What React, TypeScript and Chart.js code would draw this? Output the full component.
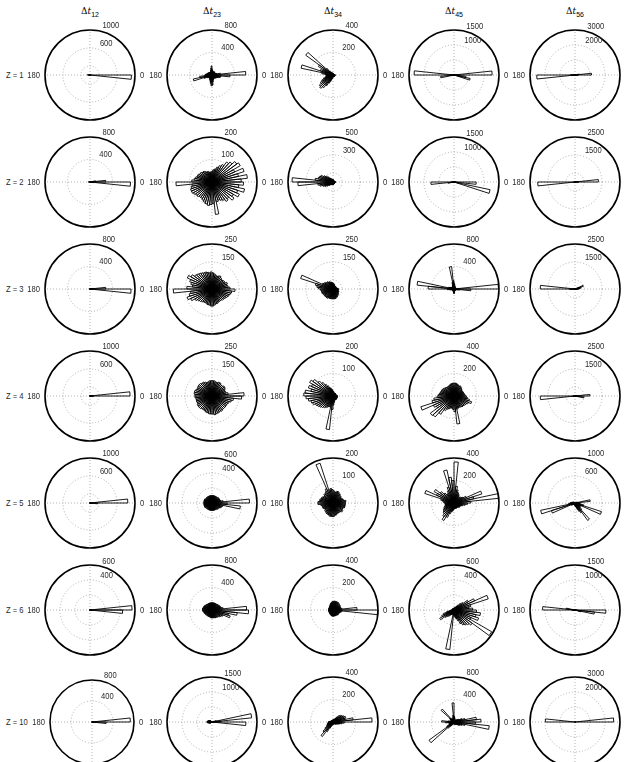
import React, { useEffect, useRef } from "react";
import { Chart, registerables } from "chart.js";
Chart.register(...registerables);

// ---- layout constants (page coordinates) ----
const COL_X = [90, 212, 333, 454, 575];
const ROW_Y = [75, 182, 289, 396, 503, 610, 722];
const R_DEFAULT = 45;
const PW = 140;
const PH = 120;

// ---- labels ----
const columnSubscripts = ["12", "23", "34", "45", "56"];
const rowLabels = ["Z = 1", "Z = 2", "Z = 3", "Z = 4", "Z = 5", "Z = 6", "Z = 10"];

// ---- radial axis: outer value and ring step per panel ----
const axisMax = [
  [1000, 800, 400, 1500, 3000],
  [800, 200, 500, 1500, 2500],
  [800, 250, 250, 800, 2500],
  [1000, 250, 200, 400, 2500],
  [1000, 600, 200, 400, 1000],
  [600, 800, 400, 600, 1500],
  [800, 1500, 400, 800, 3000],
];
const axisStep = [
  [400, 400, 200, 500, 1000],
  [400, 100, 200, 500, 1000],
  [400, 100, 100, 400, 1000],
  [400, 100, 100, 200, 1000],
  [400, 200, 100, 200, 400],
  [200, 400, 200, 200, 500],
  [400, 500, 200, 400, 1000],
];

// ---- rose histogram counts: 60 bins of 6 deg, starting at 0 deg, counter-clockwise ----
const z1_dt12 = [
  30, 0, 0, 0, 0, 0, 0, 0, 0, 0, 0, 0, 0, 0, 0,
  0, 0, 0, 0, 0, 0, 0, 0, 0, 0, 0, 0, 0, 20, 60,
  40, 10, 0, 0, 0, 0, 0, 0, 0, 0, 0, 0, 0, 0, 0,
  0, 0, 0, 0, 0, 0, 0, 0, 0, 0, 0, 0, 0, 10, 920,
];
const z1_dt23 = [
  600, 150, 90, 80, 70, 60, 60, 60, 70, 70, 60, 60, 70, 80, 100,
  160, 120, 90, 70, 60, 60, 60, 60, 70, 70, 80, 80, 90, 100, 120,
  130, 220, 340, 150, 100, 80, 70, 70, 70, 80, 90, 100, 120, 150, 190,
  180, 120, 90, 80, 70, 70, 70, 80, 80, 90, 100, 120, 150, 160, 320,
];
const z1_dt34 = [
  20, 15, 10, 10, 10, 10, 10, 10, 10, 10, 10, 10, 10, 10, 15,
  15, 15, 20, 20, 25, 30, 40, 80, 300, 150, 100, 120, 290, 100, 70,
  60, 60, 70, 90, 110, 130, 150, 160, 140, 110, 80, 60, 40, 30, 20,
  20, 15, 15, 15, 15, 15, 15, 15, 15, 15, 15, 15, 20, 20, 20,
];
const z1_dt45 = [
  1270, 40, 20, 10, 10, 10, 10, 10, 10, 10, 10, 10, 10, 10, 20,
  20, 10, 10, 10, 10, 10, 10, 10, 10, 10, 10, 10, 20, 60, 1330,
  150, 450, 80, 30, 20, 10, 10, 10, 10, 10, 10, 10, 10, 10, 20,
  20, 10, 10, 10, 10, 10, 10, 10, 10, 10, 10, 10, 550, 400, 150,
];
const z1_dt56 = [
  1100, 300, 40, 0, 0, 0, 0, 0, 0, 0, 0, 0, 0, 0, 0,
  0, 0, 0, 0, 0, 0, 0, 0, 0, 0, 0, 0, 0, 80, 300,
  2550, 200, 40, 0, 0, 0, 0, 0, 0, 0, 0, 0, 0, 0, 0,
  0, 0, 0, 0, 0, 0, 0, 0, 0, 0, 0, 0, 0, 60, 200,
];

const z2_dt12 = [
  280, 100, 20, 0, 0, 0, 0, 0, 0, 0, 0, 0, 0, 0, 0,
  0, 0, 0, 0, 0, 0, 0, 0, 0, 0, 0, 0, 0, 0, 30,
  20, 0, 0, 0, 0, 0, 0, 0, 0, 0, 0, 0, 0, 0, 0,
  0, 0, 0, 0, 0, 0, 0, 0, 0, 0, 0, 0, 0, 60, 720,
];
const z2_dt23 = [
  130, 158, 120, 150, 110, 145, 136, 120, 110, 90, 80, 70, 60, 55, 50,
  45, 45, 45, 50, 50, 55, 60, 60, 65, 65, 70, 70, 75, 80, 90,
  160, 90, 95, 100, 100, 95, 90, 90, 85, 85, 90, 95, 100, 105, 100,
  95, 145, 90, 85, 90, 95, 107, 100, 121, 110, 133, 120, 148, 120, 140,
];
const z2_dt34 = [
  30, 20, 15, 15, 15, 15, 15, 15, 15, 15, 20, 20, 20, 25, 25,
  30, 30, 30, 35, 40, 50, 60, 80, 100, 120, 150, 160, 170, 200, 455,
  390, 170, 150, 120, 100, 80, 60, 50, 40, 35, 30, 30, 30, 30, 30,
  30, 25, 25, 25, 20, 20, 20, 20, 20, 20, 20, 20, 20, 25, 30,
];
const z2_dt45 = [
  60, 20, 10, 10, 10, 10, 10, 10, 10, 10, 10, 10, 10, 10, 20,
  30, 10, 10, 10, 10, 10, 10, 10, 10, 10, 10, 10, 10, 20, 80,
  770, 200, 30, 10, 10, 10, 10, 10, 10, 10, 10, 10, 10, 10, 20,
  30, 10, 10, 10, 10, 10, 10, 10, 10, 10, 10, 30, 1230, 150, 740,
];
const z2_dt56 = [
  1300, 150, 20, 0, 0, 0, 0, 0, 0, 0, 0, 0, 0, 0, 0,
  0, 0, 0, 0, 0, 0, 0, 0, 0, 0, 0, 0, 0, 0, 60,
  2070, 100, 20, 0, 0, 0, 0, 0, 0, 0, 0, 0, 0, 0, 0,
  0, 0, 0, 0, 0, 0, 0, 0, 0, 0, 0, 0, 0, 40, 200,
];

const z3_dt12 = [
  280, 60, 10, 0, 0, 0, 0, 0, 0, 0, 0, 0, 0, 0, 0,
  0, 0, 0, 0, 0, 0, 0, 0, 0, 0, 0, 0, 0, 0, 20,
  10, 0, 0, 0, 0, 0, 0, 0, 0, 0, 0, 0, 0, 0, 0,
  0, 0, 0, 0, 0, 0, 0, 0, 0, 0, 0, 0, 0, 30, 730,
];
const z3_dt23 = [
  100, 90, 85, 90, 80, 80, 75, 75, 80, 85, 80, 75, 80, 85, 90,
  95, 90, 95, 100, 100, 105, 110, 115, 120, 135, 150, 130, 120, 110, 140,
  215, 120, 130, 145, 130, 110, 100, 95, 90, 85, 85, 85, 90, 90, 95,
  95, 90, 85, 85, 80, 80, 80, 85, 85, 90, 95, 100, 105, 110, 128,
];
const z3_dt34 = [
  30, 25, 20, 20, 20, 20, 20, 20, 20, 20, 20, 25, 25, 30, 30,
  35, 35, 40, 40, 45, 45, 50, 50, 55, 60, 65, 189, 100, 90, 80,
  70, 65, 65, 65, 60, 60, 60, 60, 60, 60, 55, 55, 55, 55, 55,
  55, 55, 55, 50, 50, 45, 45, 40, 40, 35, 35, 35, 30, 30, 30,
];
const z3_dt45 = [
  790, 60, 40, 30, 30, 30, 30, 30, 30, 40, 40, 50, 60, 80, 100,
  150, 400, 120, 80, 60, 50, 40, 40, 40, 50, 60, 80, 100, 660, 460,
  120, 80, 60, 40, 30, 30, 30, 30, 30, 30, 30, 40, 50, 60, 80,
  80, 60, 40, 30, 30, 30, 30, 30, 30, 30, 30, 40, 60, 100, 300,
];
const z3_dt56 = [
  250, 300, 350, 490, 80, 20, 0, 0, 0, 0, 0, 0, 0, 0, 0,
  0, 0, 0, 0, 0, 0, 0, 0, 0, 0, 0, 0, 0, 60, 1930,
  300, 100, 0, 0, 0, 0, 0, 0, 0, 0, 0, 0, 0, 0, 0,
  0, 0, 0, 0, 0, 0, 0, 0, 0, 0, 0, 0, 0, 40, 150,
];

const z4_dt12 = [
  890, 60, 0, 0, 0, 0, 0, 0, 0, 0, 0, 0, 0, 0, 0,
  0, 0, 0, 0, 0, 0, 0, 0, 0, 0, 0, 0, 0, 0, 20,
  10, 0, 0, 0, 0, 0, 0, 0, 0, 0, 0, 0, 0, 0, 0,
  0, 0, 0, 0, 0, 0, 0, 0, 0, 0, 0, 0, 0, 20, 80,
];
const z4_dt23 = [
  178, 90, 80, 75, 80, 85, 85, 80, 80, 85, 85, 80, 80, 85, 85,
  85, 85, 80, 80, 85, 90, 90, 95, 95, 94, 90, 95, 100, 100, 95,
  95, 90, 90, 90, 90, 95, 95, 95, 90, 90, 90, 95, 95, 100, 100,
  100, 105, 100, 100, 95, 99, 95, 95, 95, 95, 95, 100, 110, 120, 165,
];
const z4_dt34 = [
  20, 15, 15, 15, 15, 15, 15, 15, 15, 15, 15, 15, 15, 20, 20,
  25, 30, 35, 40, 50, 60, 75, 90, 110, 120, 105, 115, 100, 125, 130,
  120, 110, 100, 95, 85, 80, 75, 70, 65, 60, 55, 50, 50, 150, 60,
  40, 30, 25, 20, 20, 20, 20, 20, 20, 20, 20, 20, 20, 20, 20,
];
const z4_dt45 = [
  100, 95, 90, 90, 85, 85, 90, 95, 100, 105, 100, 105, 110, 115, 115,
  115, 113, 110, 105, 100, 100, 100, 105, 110, 115, 120, 120, 125, 130, 140,
  150, 180, 200, 310, 200, 180, 260, 250, 200, 150, 130, 120, 110, 110, 120,
  140, 250, 120, 110, 110, 115, 120, 120, 125, 130, 140, 165, 140, 120, 110,
];
const z4_dt56 = [
  830, 100, 30, 0, 0, 0, 0, 0, 0, 0, 0, 0, 0, 0, 0,
  0, 0, 0, 0, 0, 0, 0, 0, 0, 0, 0, 0, 0, 0, 100,
  1930, 150, 30, 0, 0, 0, 0, 0, 0, 0, 0, 0, 0, 0, 0,
  0, 0, 0, 0, 0, 0, 0, 0, 0, 0, 0, 0, 0, 500, 200,
];

const z5_dt12 = [
  840, 30, 0, 0, 0, 0, 0, 0, 0, 0, 0, 0, 0, 0, 0,
  0, 0, 0, 0, 0, 0, 0, 0, 0, 0, 0, 0, 0, 0, 10,
  20, 0, 0, 0, 0, 0, 0, 0, 0, 0, 0, 0, 0, 0, 0,
  0, 0, 0, 0, 0, 0, 0, 0, 0, 0, 0, 0, 0, 60, 170,
];
const z5_dt23 = [
  500, 150, 120, 110, 110, 110, 110, 100, 100, 100, 100, 100, 100, 100, 100,
  100, 100, 100, 100, 100, 100, 100, 100, 100, 100, 110, 110, 110, 110, 110,
  110, 110, 110, 110, 110, 110, 100, 100, 100, 100, 100, 100, 100, 100, 100,
  100, 100, 100, 100, 100, 100, 110, 110, 110, 120, 130, 140, 150, 380, 200,
];
const z5_dt34 = [
  55, 58, 50, 45, 45, 40, 45, 45, 50, 50, 55, 55, 50, 50, 55,
  60, 65, 60, 186, 70, 60, 55, 55, 50, 50, 55, 55, 60, 60, 67,
  67, 55, 50, 50, 50, 45, 45, 50, 50, 55, 55, 55, 60, 60, 60,
  60, 55, 55, 50, 50, 50, 50, 55, 55, 50, 50, 55, 55, 55, 55,
];
const z5_dt45 = [
  150, 400, 180, 260, 120, 90, 80, 70, 70, 80, 90, 100, 120, 150, 365,
  200, 230, 300, 150, 120, 100, 100, 120, 150, 203, 170, 273, 120, 100, 90,
  80, 80, 80, 90, 100, 110, 120, 130, 150, 180, 140, 100, 80, 70, 60,
  50, 50, 50, 50, 50, 50, 50, 50, 60, 60, 60, 70, 80, 100, 120,
];
const z5_dt56 = [
  80, 340, 60, 40, 30, 30, 20, 20, 20, 20, 20, 20, 20, 20, 20,
  20, 20, 20, 20, 20, 20, 20, 20, 20, 30, 40, 50, 60, 80, 100,
  120, 150, 780, 550, 100, 80, 60, 50, 40, 40, 40, 40, 40, 50, 60,
  60, 80, 100, 150, 200, 250, 480, 200, 150, 120, 150, 620, 200, 120, 100,
];

const z6_dt12 = [
  560, 20, 0, 0, 0, 0, 0, 0, 0, 0, 0, 0, 0, 0, 0,
  0, 0, 0, 0, 0, 0, 0, 0, 0, 0, 0, 0, 0, 0, 10,
  10, 0, 0, 0, 0, 0, 0, 0, 0, 0, 0, 0, 0, 0, 0,
  0, 0, 0, 0, 0, 0, 0, 0, 0, 0, 0, 0, 0, 20, 435,
];
const z6_dt23 = [
  615, 200, 170, 160, 150, 150, 140, 140, 130, 130, 130, 130, 130, 130, 130,
  130, 130, 130, 130, 130, 130, 130, 140, 140, 150, 150, 160, 160, 170, 170,
  170, 160, 150, 150, 140, 140, 130, 130, 130, 130, 130, 130, 130, 140, 140,
  140, 140, 140, 150, 150, 150, 160, 170, 180, 200, 220, 340, 300, 450, 650,
];
const z6_dt34 = [
  213, 80, 70, 70, 70, 75, 75, 75, 80, 80, 80, 80, 80, 80, 75,
  75, 70, 65, 60, 55, 50, 45, 45, 40, 40, 40, 40, 40, 40, 40,
  40, 40, 40, 40, 40, 40, 40, 40, 45, 45, 45, 50, 50, 55, 55,
  55, 55, 55, 55, 55, 55, 60, 60, 60, 60, 60, 65, 70, 80, 400,
];
const z6_dt45 = [
  250, 200, 230, 480, 300, 220, 150, 120, 80, 60, 40, 30, 30, 30, 30,
  20, 20, 20, 20, 20, 20, 20, 20, 20, 20, 20, 20, 20, 20, 30,
  40, 60, 100, 150, 180, 220, 150, 120, 100, 80, 70, 60, 60, 530, 60,
  80, 100, 120, 150, 200, 230, 250, 270, 300, 580, 250, 345, 300, 355, 300,
];
const z6_dt56 = [
  50, 20, 0, 0, 0, 0, 0, 0, 0, 0, 0, 0, 0, 0, 0,
  0, 0, 0, 0, 0, 0, 0, 0, 0, 0, 0, 0, 0, 300, 1080,
  100, 30, 0, 0, 0, 0, 0, 0, 0, 0, 0, 0, 0, 0, 0,
  0, 0, 0, 0, 0, 0, 0, 0, 0, 0, 0, 0, 200, 650, 1030,
];

const z10_dt12 = [
  730, 30, 0, 0, 0, 0, 0, 0, 0, 0, 0, 0, 0, 0, 0,
  0, 0, 0, 0, 0, 0, 0, 0, 0, 0, 0, 0, 0, 0, 10,
  10, 0, 0, 0, 0, 0, 0, 0, 0, 0, 0, 0, 0, 0, 0,
  0, 0, 0, 0, 0, 0, 0, 0, 0, 0, 0, 0, 0, 60, 270,
];
const z10_dt23 = [
  300, 1330, 150, 60, 40, 30, 20, 20, 20, 20, 20, 20, 20, 20, 20,
  20, 20, 20, 20, 20, 20, 30, 40, 60, 80, 100, 120, 140, 160, 170,
  170, 150, 120, 100, 80, 60, 40, 30, 20, 20, 20, 20, 20, 20, 20,
  20, 20, 20, 20, 20, 20, 20, 20, 20, 20, 30, 40, 60, 100, 1130,
];
const z10_dt34 = [
  347, 180, 110, 120, 110, 100, 90, 80, 60, 40, 30, 25, 20, 20, 20,
  20, 15, 15, 15, 15, 15, 15, 15, 15, 15, 15, 20, 25, 30, 40,
  40, 45, 50, 55, 60, 70, 90, 120, 160, 100, 60, 40, 30, 25, 20,
  20, 20, 20, 20, 20, 20, 25, 25, 30, 30, 40, 50, 60, 80, 100,
];
const z10_dt45 = [
  480, 400, 200, 150, 100, 80, 60, 50, 40, 40, 40, 50, 60, 80, 100,
  340, 120, 80, 60, 60, 60, 80, 310, 100, 80, 60, 60, 60, 100, 220,
  150, 100, 80, 80, 100, 150, 550, 150, 100, 60, 40, 30, 30, 30, 40,
  40, 40, 40, 40, 50, 50, 60, 70, 80, 100, 120, 150, 200, 630, 380,
];
const z10_dt56 = [
  2580, 40, 0, 0, 0, 0, 0, 0, 0, 0, 0, 0, 0, 0, 0,
  0, 0, 0, 0, 0, 0, 0, 0, 0, 0, 0, 0, 0, 0, 1980,
  40, 0, 0, 0, 0, 0, 0, 0, 0, 0, 0, 0, 0, 0, 0,
  0, 0, 0, 0, 0, 0, 0, 0, 0, 0, 0, 0, 0, 0, 40,
];

const panelCounts = [
  [z1_dt12, z1_dt23, z1_dt34, z1_dt45, z1_dt56],
  [z2_dt12, z2_dt23, z2_dt34, z2_dt45, z2_dt56],
  [z3_dt12, z3_dt23, z3_dt34, z3_dt45, z3_dt56],
  [z4_dt12, z4_dt23, z4_dt34, z4_dt45, z4_dt56],
  [z5_dt12, z5_dt23, z5_dt34, z5_dt45, z5_dt56],
  [z6_dt12, z6_dt23, z6_dt34, z6_dt45, z6_dt56],
  [z10_dt12, z10_dt23, z10_dt34, z10_dt45, z10_dt56],
];

const LABEL_FONT = '9.5px "Liberation Sans", Arial, sans-serif';
const TEXT_COLOR = "#2a2a2a";
const SQUEEZE = 0.8; // the figure's lettering is horizontally narrow

function narrowText(ctx: any, text: string, x: number, y: number, align: string) {
  const w = ctx.measureText(text).width * SQUEEZE;
  let left = x;
  if (align === "right") left = x - w;
  else if (align === "center") left = x - w / 2;
  ctx.save();
  ctx.translate(left, y);
  ctx.scale(SQUEEZE, 1);
  ctx.textAlign = "left";
  ctx.fillText(text, 0, 0);
  ctx.restore();
}

const roseLabelPlugin = {
  id: "roseLabels",
  afterDraw(chart: any, _args: any, opts: any) {
    const s = chart.scales.r;
    const ctx = chart.ctx;
    const cx = s.xCenter;
    const cy = s.yCenter;
    const rOuter = s.getDistanceFromCenterForValue(opts.max);
    const c82 = Math.cos((82 * Math.PI) / 180);
    const s82 = Math.sin((82 * Math.PI) / 180);
    ctx.save();
    ctx.font = LABEL_FONT;
    ctx.fillStyle = TEXT_COLOR;
    ctx.textBaseline = "bottom";
    [opts.max, opts.max - opts.step].forEach((v: number) => {
      if (v <= 0) return;
      const r = s.getDistanceFromCenterForValue(v + opts.step / 20);
      narrowText(ctx, String(v), cx + r * c82 + 6, cy - r * s82 + 1, "left");
    });
    ctx.textBaseline = "middle";
    narrowText(ctx, "0", cx + rOuter + 5, cy, "left");
    narrowText(ctx, "180", cx - rOuter - 5, cy, "right");
    ctx.restore();
  },
};

function RosePanel({ counts, max, step, cx, cy, radius }: any) {
  const ref = useRef<HTMLCanvasElement | null>(null);
  useEffect(() => {
    if (!ref.current) return;
    const ringValues: number[] = [];
    for (let v = max; v > 1e-9; v -= step) ringValues.unshift(v);
    ringValues.unshift(0);
    const n = counts.length;
    // Chart.js sweeps clockwise from startAngle; the bins go counter-clockwise from 0 deg
    const values = counts.slice().reverse();
    const labels = values.map((_: number, i: number) => String(((n - 1 - i) * 360) / n));
    const isOuter = (v: number) => Math.abs(v - max) < 1e-6;
    const pad = {
      left: PW / 2 - radius,
      right: PW / 2 - radius,
      top: PH / 2 - radius,
      bottom: PH / 2 - radius,
    };
    const chart = new Chart(ref.current, {
      type: "polarArea",
      data: {
        labels,
        datasets: [
          {
            data: values,
            backgroundColor: "rgba(0,0,0,0)",
            borderColor: "#000",
            borderWidth: 0.9,
            circular: false,
          } as any,
        ],
      },
      options: {
        responsive: false,
        animation: false,
        devicePixelRatio: 1,
        layout: { padding: pad },
        elements: { arc: { circular: false, borderAlign: "center" } as any },
        plugins: {
          legend: { display: false },
          tooltip: { enabled: false },
          roseLabels: { max, step },
        } as any,
        scales: {
          r: {
            min: 0,
            max,
            startAngle: 90,
            afterBuildTicks: (scale: any) => {
              scale.ticks = ringValues.map((v) => ({ value: v }));
            },
            ticks: { display: false },
            grid: {
              circular: true,
              color: (c: any) => (c.tick && isOuter(c.tick.value) ? "#000" : "#a0a0a0"),
              lineWidth: (c: any) => (c.tick && isOuter(c.tick.value) ? 1.6 : 0.8),
            },
            border: {
              dash: (c: any) => (c.tick && isOuter(c.tick.value) ? [] : [1, 2]),
            },
            angleLines: {
              display: true,
              color: "#a0a0a0",
              lineWidth: (c: any) => (c.index % (n / 4) === 0 ? 0.8 : 0),
              borderDash: [1, 2],
            },
            pointLabels: { display: false },
          } as any,
        },
      },
      plugins: [roseLabelPlugin as any],
    });
    return () => chart.destroy();
  }, [counts, max, step, radius]);
  return (
    <canvas
      ref={ref}
      width={PW}
      height={PH}
      style={{ position: "absolute", left: cx - PW / 2, top: cy - PH / 2, width: PW, height: PH }}
    />
  );
}

export default function App() {
  return (
    <div
      style={{
        position: "absolute",
        left: 0,
        top: 0,
        width: 624,
        height: 762,
        overflow: "hidden",
        background: "#fff",
      }}
    >
      {columnSubscripts.map((sub, c) => (
        <div
          key={"t" + c}
          style={{
            position: "absolute",
            left: COL_X[c] - 40,
            width: 80,
            top: 5,
            textAlign: "center",
            fontFamily: '"DejaVu Serif", "Liberation Serif", serif',
            fontSize: 9,
            color: "#000",
            lineHeight: "12px",
          }}
        >
          Δ<i>t</i>
          <sub style={{ fontSize: 7, color: "#000", fontFamily: '"Liberation Sans", Arial, sans-serif' }}>{sub}</sub>
        </div>
      ))}
      {rowLabels.map((lab, r) => (
        <div
          key={"r" + r}
          style={{
            position: "absolute",
            left: 6,
            top: ROW_Y[r] - 6,
            fontFamily: '"Liberation Sans", Arial, sans-serif',
            fontSize: 9.5,
            lineHeight: "12px",
            color: TEXT_COLOR,
            whiteSpace: "nowrap",
            transform: `scaleX(${SQUEEZE})`,
            transformOrigin: "left center",
          }}
        >
          {lab}
        </div>
      ))}
      {panelCounts.map((row, r) =>
        row.map((counts, c) => (
          <RosePanel
            key={r + "-" + c}
            counts={counts}
            max={axisMax[r][c]}
            step={axisStep[r][c]}
            cx={COL_X[c] + (r === 6 && c === 0 ? 2 : 0)}
            cy={ROW_Y[r]}
            radius={r === 6 && c === 0 ? 42 : R_DEFAULT}
          />
        ))
      )}
    </div>
  );
}
